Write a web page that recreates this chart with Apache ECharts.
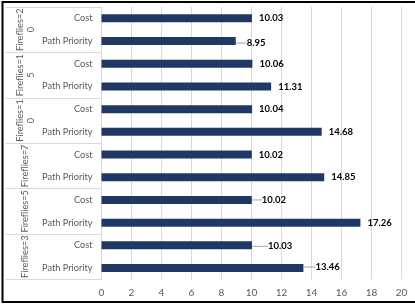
<!DOCTYPE html>
<html>
<head>
<meta charset="utf-8">
<script src="https://cdn.jsdelivr.net/npm/echarts@6/dist/echarts.min.js"></script>
<style>
  html, body { margin: 0; padding: 0; background: #fff; }
  #main { width: 415px; height: 304px; }
</style>
</head>
<body>
<div id="main"></div>
<script>
var groups = ['Fireflies=20', 'Fireflies=15', 'Fireflies=10', 'Fireflies=7', 'Fireflies=5', 'Fireflies=3'];
var subCats = ['Cost', 'Path Priority'];
var costValues = [10.03, 10.06, 10.04, 10.02, 10.02, 10.03];
var pathPriorityValues = [8.95, 11.31, 14.68, 14.85, 17.26, 13.46];
var xTicks = [0, 2, 4, 6, 8, 10, 12, 14, 16, 18, 20];

// one row per (group, sub category), top to bottom
var rows = [], values = [];
groups.forEach(function (g, i) {
    rows.push(subCats[0]); values.push(costValues[i]);
    rows.push(subCats[1]); values.push(pathPriorityValues[i]);
});

// labels Excel pushed away from the bar (with a leader line)
var nudges = { 1: [4, 2], 8: [3, 0], 10: [9, 1], 11: [5, -1] };

var barData = values.map(function (v, i) {
    return { value: v, labelLine: { show: !!nudges[i] } };
});

var myChart = echarts.init(document.getElementById('main'));

var option = {
    animation: false,
    grid: { left: 101.5, right: 13.5, top: 7, bottom: 24.6 },
    xAxis: {
        type: 'value',
        min: xTicks[0],
        max: xTicks[xTicks.length - 1],
        interval: xTicks[1] - xTicks[0],
        axisLine: { show: false },
        axisTick: { show: false },
        splitLine: { lineStyle: { color: '#d9d9d9', width: 1 } },
        axisLabel: { color: '#595959', fontSize: 10, fontFamily: 'Lato', margin: 8 }
    },
    yAxis: [
        {
            type: 'category',
            inverse: true,
            data: rows,
            position: 'left',
            axisLine: { show: true, lineStyle: { color: '#d9d9d9' } },
            axisTick: { show: false },
            axisLabel: { interval: 0, color: '#595959', fontSize: 9.2, fontFamily: 'Lato', margin: 9 }
        },
        {
            type: 'category',
            inverse: true,
            data: groups,
            position: 'left',
            axisLine: { show: false },
            axisTick: { show: true, length: 96, lineStyle: { color: '#d9d9d9' } },
            axisLabel: {
                interval: 0, rotate: 90, margin: 76,
                align: 'center', verticalAlign: 'middle',
                color: '#595959', fontSize: 9.2, fontFamily: 'Lato', lineHeight: 11,
                formatter: function (v) {
                    return v.length > 11 ? v.slice(0, 11) + '\n' + v.slice(11) : v;
                }
            }
        }
    ],
    series: [{
        type: 'bar',
        data: barData,
        barWidth: 8,
        itemStyle: { color: '#203864' },
        label: {
            show: true,
            position: 'right',
            distance: 7,
            color: '#000',
            fontWeight: 'bold',
            fontSize: 9.5,
            fontFamily: 'Lato',
            formatter: function (p) { return p.value.toFixed(2); }
        },
        labelLine: { lineStyle: { color: '#a6a6a6', width: 1 } },
        labelLayout: function (p) {
            var n = nudges[p.dataIndex];
            return n ? { dx: n[0], dy: n[1] } : {};
        }
    }],
    graphic: [{
        type: 'rect',
        shape: { x: 2.5, y: 2, width: 420, height: 300 },
        style: { fill: 'none', stroke: '#000', lineWidth: 2 },
        silent: true
    }]
};

myChart.setOption(option);
</script>
</body>
</html>
